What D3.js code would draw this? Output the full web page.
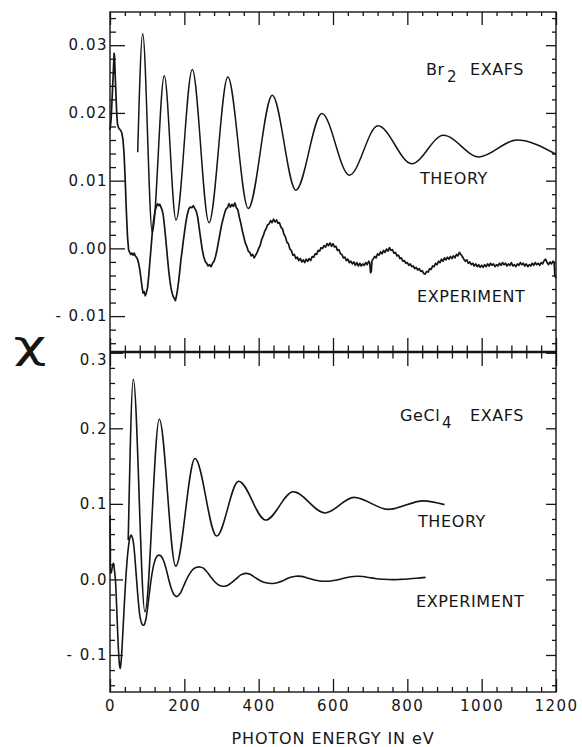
<!DOCTYPE html>
<html>
<head>
<meta charset="utf-8">
<script src="https://cdn.jsdelivr.net/npm/d3@7"></script>
<style>
  body { margin: 0; background: #fff; }
  svg { display: block; }
  text { font-family: "DejaVu Sans", sans-serif; fill: #151515; }
</style>
</head>
<body>
<div id="chart"></div>
<script>
// ---- data (eV, chi) ----
var br2Theory = [
  [74.5, 0.0142], [88, 0.0317], [113.8, 0.0024], [146, 0.0255], [177.6, 0.0042],
  [221.4, 0.0264], [266.4, 0.0038], [317, 0.0253], [372, 0.0059], [436.7, 0.0226],
  [500, 0.0086], [570, 0.0199], [644, 0.0108], [721, 0.0181], [812, 0.0125],
  [897, 0.0167], [993, 0.0135], [1094, 0.0160], [1200, 0.0139]
];

var br2Experiment = [
  [0, 0.0175], [3, 0.0190], [6, 0.0225], [9, 0.0262], [11, 0.0288], [12, 0.0285], [14, 0.0255],
  [16, 0.0228], [18, 0.0200], [20, 0.0184], [23, 0.0178], [26, 0.0176], [29, 0.0174], [32, 0.0170],
  [35, 0.0160], [38, 0.0138], [41, 0.0100], [44, 0.0055], [47, 0.0018], [50, -0.0002], [53, -0.0006],
  [56, -0.0009], [59, -0.0007], [62, -0.0010], [65, -0.0007], [68, -0.0011], [71, -0.0013],
  [74, -0.0016], [77, -0.0022], [80, -0.0031], [83, -0.0043], [86, -0.0056], [89, -0.0066],
  [92, -0.0064], [95, -0.0070], [98, -0.0065], [101, -0.0058], [104, -0.0042], [107, -0.0022],
  [110, -0.0002], [113, 0.0018], [116, 0.0035], [119, 0.0048], [122, 0.0057], [125, 0.0062],
  [128, 0.0066], [131, 0.0063], [134, 0.0065], [137, 0.0061], [140, 0.0057], [143, 0.0050],
  [146, 0.0036], [149, 0.0020], [152, 0.0002], [155, -0.0016], [158, -0.0033], [161, -0.0047],
  [164, -0.0058], [167, -0.0066], [170, -0.0071], [173, -0.0074], [176, -0.0077], [179, -0.0070],
  [182, -0.0060], [185, -0.0047], [188, -0.0032], [191, -0.0016], [194, -0.0004], [197, 0.0010],
  [200, 0.0022], [204, 0.0038], [208, 0.0050], [212, 0.0058], [216, 0.0061], [220, 0.0060],
  [224, 0.0063], [228, 0.0059], [232, 0.0055], [236, 0.0046], [240, 0.0030], [244, 0.0014],
  [248, -0.0001], [252, -0.0012], [256, -0.0019], [260, -0.0022], [264, -0.0026], [268, -0.0024],
  [272, -0.0027], [276, -0.0022], [280, -0.0019], [284, -0.0012], [288, -0.0002], [292, 0.0010],
  [296, 0.0022], [300, 0.0034], [304, 0.0043], [308, 0.0051], [312, 0.0058], [316, 0.0060],
  [320, 0.0066], [324, 0.0061], [328, 0.0065], [332, 0.0062], [336, 0.0067], [340, 0.0060],
  [344, 0.0057], [348, 0.0046], [352, 0.0037], [356, 0.0026], [360, 0.0017], [364, 0.0008],
  [368, 0.0003], [372, -0.0004], [376, -0.0006], [380, -0.0011], [384, -0.0009], [388, -0.0014],
  [392, -0.0010], [396, -0.0006], [400, 0.0000], [404, 0.0004], [408, 0.0013], [412, 0.0018],
  [416, 0.0025], [420, 0.0029], [424, 0.0035], [428, 0.0036], [432, 0.0041], [436, 0.0038],
  [440, 0.0043], [444, 0.0039], [448, 0.0042], [452, 0.0037], [456, 0.0038], [460, 0.0031],
  [464, 0.0029], [468, 0.0021], [472, 0.0017], [476, 0.0009], [480, 0.0007], [484, -0.0001],
  [488, -0.0003], [492, -0.0010], [496, -0.0009], [500, -0.0015], [504, -0.0013], [508, -0.0018],
  [512, -0.0015], [516, -0.0020], [520, -0.0017], [524, -0.0021], [528, -0.0016], [532, -0.0019],
  [536, -0.0015], [540, -0.0018], [544, -0.0012], [548, -0.0013], [552, -0.0008], [556, -0.0009],
  [560, -0.0003], [564, -0.0004], [568, 0.0001], [572, 0.0000], [576, 0.0004], [580, 0.0002],
  [584, 0.0007], [588, 0.0004], [592, 0.0008], [596, 0.0003], [600, 0.0007], [604, 0.0002],
  [608, 0.0003], [612, -0.0003], [616, -0.0002], [620, -0.0008], [624, -0.0009], [628, -0.0014],
  [632, -0.0013], [636, -0.0018], [640, -0.0016], [644, -0.0021], [648, -0.0019], [652, -0.0023],
  [656, -0.0020], [660, -0.0025], [664, -0.0021], [668, -0.0026], [672, -0.0022], [676, -0.0026],
  [680, -0.0023], [684, -0.0025], [688, -0.0021], [692, -0.0024], [696, -0.0019], [699, -0.0022],
  [701, -0.0036], [703, -0.0034], [705, -0.0018], [708, -0.0016], [712, -0.0012], [716, -0.0014],
  [720, -0.0008], [724, -0.0010], [728, -0.0005], [732, -0.0008], [736, -0.0003], [740, -0.0006],
  [744, -0.0001], [748, -0.0004], [752, 0.0001], [756, -0.0003], [760, -0.0002], [764, -0.0007],
  [768, -0.0006], [772, -0.0011], [776, -0.0010], [780, -0.0015], [784, -0.0014], [788, -0.0019],
  [792, -0.0018], [796, -0.0022], [800, -0.0021], [804, -0.0025], [808, -0.0023], [812, -0.0027],
  [816, -0.0026], [820, -0.0030], [824, -0.0028], [828, -0.0032], [832, -0.0030], [836, -0.0034],
  [840, -0.0033], [844, -0.0037], [848, -0.0038], [852, -0.0034], [856, -0.0035], [860, -0.0030],
  [864, -0.0031], [868, -0.0026], [872, -0.0027], [876, -0.0022], [880, -0.0024], [884, -0.0019],
  [888, -0.0021], [892, -0.0016], [896, -0.0019], [900, -0.0014], [904, -0.0017], [908, -0.0013],
  [912, -0.0016], [916, -0.0012], [920, -0.0015], [924, -0.0011], [928, -0.0014], [932, -0.0009],
  [936, -0.0011], [940, -0.0006], [944, -0.0009], [948, -0.0012], [952, -0.0016], [956, -0.0019],
  [960, -0.0017], [964, -0.0022], [968, -0.0020], [972, -0.0024], [976, -0.0022], [980, -0.0026],
  [984, -0.0023], [988, -0.0027], [992, -0.0024], [996, -0.0028], [1000, -0.0025], [1004, -0.0028],
  [1008, -0.0024], [1012, -0.0027], [1016, -0.0023], [1020, -0.0026], [1024, -0.0022], [1028, -0.0025],
  [1032, -0.0023], [1036, -0.0027], [1040, -0.0024], [1044, -0.0026], [1048, -0.0022], [1052, -0.0025],
  [1056, -0.0021], [1060, -0.0024], [1064, -0.0022], [1068, -0.0026], [1072, -0.0023], [1076, -0.0025],
  [1080, -0.0021], [1084, -0.0026], [1088, -0.0024], [1092, -0.0027], [1096, -0.0023], [1100, -0.0025],
  [1104, -0.0021], [1108, -0.0024], [1112, -0.0022], [1116, -0.0026], [1120, -0.0023], [1124, -0.0027],
  [1128, -0.0024], [1132, -0.0026], [1136, -0.0022], [1140, -0.0025], [1144, -0.0021], [1148, -0.0024],
  [1152, -0.0022], [1156, -0.0025], [1160, -0.0021], [1164, -0.0023], [1168, -0.0018], [1172, -0.0016],
  [1176, -0.0021], [1180, -0.0024], [1184, -0.0020], [1188, -0.0023], [1192, -0.0019], [1195, -0.0021],
  [1197, -0.0040], [1200, -0.0044]
];

var gecl4Theory = [
  [49, 0.052], [62.7, 0.265], [94, -0.043], [132.6, 0.212], [176.8, 0.0176],
  [228.7, 0.160], [287, 0.0574], [346, 0.130], [419, 0.0786], [493, 0.116],
  [578.5, 0.088], [656.5, 0.1086], [749, 0.0927], [843, 0.104], [900, 0.099]
];

var gecl4Experiment = [
  [0, 0.085], [1, 0.040], [2, 0.008], [4, 0.010], [6, 0.016], [9, 0.0216], [12, 0.012],
  [14.5, 0.000], [17, -0.025], [20, -0.062], [23, -0.095], [25.5, -0.113], [27.5, -0.118],
  [30, -0.108], [33, -0.085], [36.5, -0.052], [40, -0.020], [44, 0.012], [48.5, 0.038],
  [53, 0.054], [57, 0.0587], [61, 0.054], [65, 0.040], [69, 0.016], [73, -0.010], [77, -0.033],
  [81, -0.050], [86, -0.059], [91, -0.0605], [96, -0.054], [101, -0.038], [106, -0.018],
  [111, 0.001], [117, 0.018], [123, 0.028], [130, 0.032], [137, 0.031], [144, 0.025],
  [151, 0.014], [158, 0.000], [165, -0.012], [172, -0.020], [179, -0.0228], [188, -0.019],
  [197, -0.010], [206, 0.000], [215, 0.008], [224, 0.0135], [233, 0.016], [242, 0.0165],
  [251, 0.015], [260, 0.0105], [270, 0.004], [280, -0.002], [290, -0.0065], [300, -0.0088],
  [307, -0.009], [316, -0.008], [328, -0.004], [340, 0.001], [352, 0.006], [365, 0.008],
  [378, 0.0065], [392, 0.002], [406, -0.002], [420, -0.0045], [437, -0.0053], [452, -0.004],
  [468, -0.001], [484, 0.0025], [500, 0.0042], [515, 0.004], [530, 0.002], [548, -0.0005],
  [565, -0.002], [583, -0.0025], [600, -0.0015], [616, 0.000], [632, 0.002], [648, 0.0035],
  [664, 0.0042], [680, 0.0038], [697, 0.0025], [713, 0.0012], [735, 0.0002], [759, -0.0003],
  [780, 0.0000], [802, 0.0006], [825, 0.0015], [849, 0.0027]
];

var xTicks = [0, 200, 400, 600, 800, 1000, 1200];
var xTickLabels = ["0", "200", "400", "600", "800", "1000", "1200"];
var br2Ticks = [-0.01, 0, 0.01, 0.02, 0.03];
var br2TickLabels = ["- 0.01", "0.00", "0.01", "0.02", "0.03"];
var geTicks = [-0.1, 0, 0.1, 0.2, 0.3];
var geTickLabels = ["- 0.1", "0.0", "0.1", "0.2", "0.3"];

// ---- layout ----
var width = 582, height = 747;
var plotLeft = 110, plotRight = 556, plotTop = 12, plotMid = 352, plotBottom = 692;
var ink = "#151515";

var svg = d3.select("#chart").append("svg")
  .attr("width", width)
  .attr("height", height);

var x = d3.scaleLinear().domain([0, 1200]).range([plotLeft, plotRight]);
var yTop = d3.scaleLinear().domain([-0.0153, 0.0349]).range([plotMid, plotTop]);
var yBot = d3.scaleLinear().domain([-0.149, 0.301]).range([plotBottom, plotMid]);

// minor tick positions between the majors (5 intervals per major)
function minorTicks(step, lo, hi) {
  return d3.range(Math.ceil(lo / step), Math.floor(hi / step) + 1)
    .filter(function (i) { return i % 5 !== 0; })
    .map(function (i) { return i * step; });
}
var xMinor = minorTicks(40, 0, 1200);
var topMinor = minorTicks(0.002, -0.0153, 0.0349);
var botMinor = minorTicks(0.02, -0.149, 0.301);

function style(g) {
  g.select(".domain").remove();
  g.selectAll("line").attr("stroke", ink).attr("stroke-width", 1.3);
  g.attr("font-family", "DejaVu Sans, sans-serif").attr("font-size", 15);
  g.selectAll("text").attr("fill", ink).style("letter-spacing", "1.5px");
}

function addAxis(axis, tx, ty) {
  return svg.append("g")
    .attr("transform", "translate(" + tx + "," + ty + ")")
    .call(axis)
    .call(style);
}

// left axes (ticks point inward, labels outside)
addAxis(d3.axisLeft(yTop).tickValues(br2Ticks).tickFormat(function (d, i) { return br2TickLabels[i]; })
  .tickSizeInner(-15).tickSizeOuter(0).tickPadding(2), plotLeft, 0);
addAxis(d3.axisLeft(yTop).tickValues(topMinor).tickFormat("").tickSizeInner(-6).tickSizeOuter(0), plotLeft, 0);
var geLeft = addAxis(d3.axisLeft(yBot).tickValues(geTicks).tickFormat(function (d, i) { return geTickLabels[i]; })
  .tickSizeInner(-13).tickSizeOuter(0).tickPadding(2), plotLeft, 0);
geLeft.selectAll(".tick").filter(function (d) { return d === 0.3; }).select("text").attr("y", 7);
addAxis(d3.axisLeft(yBot).tickValues(botMinor).tickFormat("").tickSizeInner(-5).tickSizeOuter(0), plotLeft, 0);

// right axes
addAxis(d3.axisRight(yTop).tickValues(br2Ticks).tickFormat("").tickSizeInner(-10).tickSizeOuter(0), plotRight, 0);
addAxis(d3.axisRight(yTop).tickValues(topMinor).tickFormat("").tickSizeInner(-4).tickSizeOuter(0), plotRight, 0);
addAxis(d3.axisRight(yBot).tickValues(geTicks).tickFormat("").tickSizeInner(-10).tickSizeOuter(0), plotRight, 0);
addAxis(d3.axisRight(yBot).tickValues(botMinor).tickFormat("").tickSizeInner(-4).tickSizeOuter(0), plotRight, 0);

// top edge
addAxis(d3.axisTop(x).tickValues(xTicks).tickFormat("").tickSizeInner(-13).tickSizeOuter(0), 0, plotTop);
addAxis(d3.axisTop(x).tickValues(xMinor).tickFormat("").tickSizeInner(-4).tickSizeOuter(0), 0, plotTop);

// middle divider: ticks cross the line
addAxis(d3.axisTop(x).tickValues(xTicks).tickFormat("").tickSizeInner(14).tickSizeOuter(0), 0, plotMid);
addAxis(d3.axisBottom(x).tickValues(xTicks).tickFormat("").tickSizeInner(14).tickSizeOuter(0), 0, plotMid);
addAxis(d3.axisTop(x).tickValues(xMinor).tickFormat("").tickSizeInner(6.5).tickSizeOuter(0), 0, plotMid);
addAxis(d3.axisBottom(x).tickValues(xMinor).tickFormat("").tickSizeInner(6.5).tickSizeOuter(0), 0, plotMid);

// bottom edge with labels
addAxis(d3.axisBottom(x).tickValues(xTicks).tickFormat(function (d, i) { return xTickLabels[i]; })
  .tickSizeInner(-13).tickSizeOuter(0).tickPadding(8), 0, plotBottom);
addAxis(d3.axisBottom(x).tickValues(xMinor).tickFormat("").tickSizeInner(-5).tickSizeOuter(0), 0, plotBottom);

// frame + divider
svg.append("rect")
  .attr("x", plotLeft).attr("y", plotTop)
  .attr("width", plotRight - plotLeft).attr("height", plotBottom - plotTop)
  .attr("fill", "none").attr("stroke", ink).attr("stroke-width", 1.4);
svg.append("line")
  .attr("x1", plotLeft).attr("x2", plotRight).attr("y1", plotMid).attr("y2", plotMid)
  .attr("stroke", ink).attr("stroke-width", 2.6);

// curves
function drawCurve(data, yScale, curve, sw) {
  var line = d3.line()
    .x(function (d) { return x(d[0]); })
    .y(function (d) { return yScale(d[1]); })
    .curve(curve);
  svg.append("path")
    .datum(data)
    .attr("d", line)
    .attr("fill", "none")
    .attr("stroke", ink)
    .attr("stroke-width", sw)
    .attr("stroke-linejoin", "round");
}
drawCurve(br2Theory, yTop, d3.curveMonotoneX, 1.5);
drawCurve(br2Experiment, yTop, d3.curveLinear, 1.7);
drawCurve(gecl4Theory, yBot, d3.curveMonotoneX, 1.6);
drawCurve(gecl4Experiment, yBot, d3.curveCatmullRom, 1.6);

// labels
function label(txt, tx, ty) {
  return svg.append("text")
    .attr("x", tx).attr("y", ty)
    .attr("font-size", 16)
    .style("letter-spacing", "0.6px")
    .text(txt);
}
label("Br", 426, 75);
svg.append("text").attr("x", 447).attr("y", 82).attr("font-size", 15).text("2");
label("EXAFS", 470, 75);
label("THEORY", 420, 184);
label("EXPERIMENT", 417, 302);

label("GeCl", 400, 421);
svg.append("text").attr("x", 442).attr("y", 428).attr("font-size", 15).text("4");
label("EXAFS", 470, 421);
label("THEORY", 418, 527);
label("EXPERIMENT", 416, 607);

svg.append("text")
  .attr("x", (plotLeft + plotRight) / 2).attr("y", 744)
  .attr("text-anchor", "middle")
  .attr("font-size", 16)
  .style("letter-spacing", "0.9px")
  .text("PHOTON ENERGY IN eV");

// chi axis symbol
svg.append("text")
  .attr("transform", "translate(30,358) scale(1.5,1)")
  .attr("text-anchor", "middle")
  .attr("font-family", "DejaVu Serif, serif")
  .attr("font-size", 38)
  .text("χ");
</script>
</body>
</html>
